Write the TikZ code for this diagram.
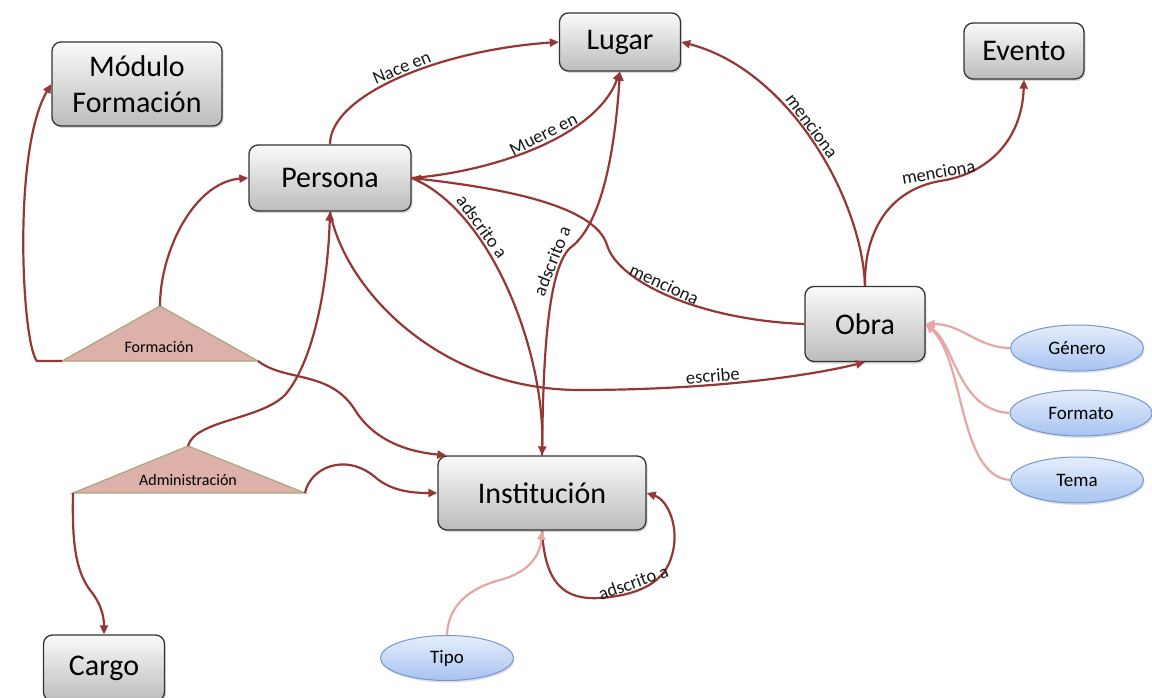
\documentclass[tikz,border=0pt]{standalone}
\usepackage{fontspec}
\setmainfont{Carlito}
\usetikzlibrary{arrows.meta,shadows,calc,shapes.geometric}

\definecolor{link}{HTML}{953735}
\definecolor{attr}{HTML}{E6A6A3}
\definecolor{boxtop}{HTML}{FAFAFA}
\definecolor{boxbot}{HTML}{BCBCBC}
\definecolor{boxline}{HTML}{333333}
\definecolor{tri}{HTML}{DDB0A9}
\definecolor{triline}{HTML}{A9A882}
\definecolor{elltop}{HTML}{E6EEFC}
\definecolor{ellbot}{HTML}{A6C3F0}
\definecolor{ellline}{HTML}{7396D4}

\tikzset{
  entity/.style={draw=boxline, line width=1.3pt, rounded corners=9pt,
    top color=boxtop, bottom color=boxbot, inner sep=0pt, align=center,
    font=\fontsize{30}{36}\selectfont,
    drop shadow={shadow xshift=1.5pt, shadow yshift=-2pt, opacity=0.3}},
  attribute/.style={ellipse, draw=ellline, line width=1pt,
    top color=elltop, bottom color=ellbot, inner sep=0pt,
    font=\fontsize{19}{22}\selectfont,
    drop shadow={shadow xshift=1pt, shadow yshift=-2pt, opacity=0.25}},
  relshape/.style={fill=tri, draw=triline, line width=1.2pt, line join=miter},
  rellabel/.style={font=\fontsize{16}{18}\selectfont, inner sep=0pt},
  tip/.style={-{Triangle[length=9pt,width=8pt]}},
  backtip/.style={{Triangle[length=9pt,width=8pt]}-},
  rel/.style={draw=link, line width=2.2pt},
  attrlink/.style={draw=attr, line width=2.2pt},
  lbl/.style={font=\fontsize{18.5}{20}\selectfont, sloped, above,
    inner sep=1.5pt, text=black!90}
}

\begin{document}
\begin{tikzpicture}[x=1pt,y=-1pt]
\useasboundingbox (0,0) rectangle (1152,698);
\fill[white] (0,0) rectangle (1152,698);
\clip (0,0) rectangle (1152,698);

% entities
\node[entity, minimum width=170pt, minimum height=84pt] (mod) at (137,84) {Módulo\\Formación};
\node[entity, minimum width=162pt, minimum height=66pt] (per) at (330,178) {Persona};
\node[entity, minimum width=121pt, minimum height=58pt] (lug) at (620,42) {Lugar};
\node[entity, minimum width=120pt, minimum height=56pt] (eve) at (1024,51) {Evento};
\node[entity, minimum width=120pt, minimum height=75pt] (obr) at (865,324) {Obra};
\node[entity, minimum width=208pt, minimum height=74pt] (ins) at (542,493) {Institución};
\node[entity, minimum width=121pt, minimum height=66pt] (car) at (104,668) {Cargo};

% attributes
\node[attribute, minimum width=133pt, minimum height=46pt] (gen) at (1077,348) {Género};
\node[attribute, minimum width=142pt, minimum height=46pt] (fmt) at (1081,413) {Formato};
\node[attribute, minimum width=133pt, minimum height=46pt] (tem) at (1077,480) {Tema};
\node[attribute, minimum width=133pt, minimum height=45pt] (tip) at (447,658) {Tipo};

% relationship triangles
\coordinate (Fa) at (160,306);
\coordinate (Fl) at (62,361);
\coordinate (Fr) at (258,361);
\filldraw[relshape] (Fl) -- (Fa) -- (Fr) -- cycle;
\node[rellabel] (frm) at (159,347) {Formación};

\coordinate (Aa) at (188,446);
\coordinate (Al) at (73,493);
\coordinate (Ar) at (305,493);
\filldraw[relshape] (Al) -- (Aa) -- (Ar) -- cycle;
\node[rellabel] (adm) at (188,480) {Administración};

% Persona relations
\draw[rel, tip] (per.north) .. controls (330,95) and (440,50) .. (lug.west)
  node[lbl, pos=0.52] {Nace en};
\draw[rel, tip] (per.east) .. controls (490,172) and (595,138) .. (lug.south)
  node[lbl, pos=0.55] {Muere en};
\draw[rel, tip] (per.east) .. controls (490,210) and (545,350) .. (ins.north)
  node[lbl, pos=0.3] {adscrito a};
\draw[rel, tip] (per.south) .. controls (345,290) and (440,390) .. (580,390)
  .. controls (700,390) and (800,378) .. (obr.south)
  node[lbl, pos=0.4] {escribe};

% Institución relations
\draw[rel, tip] (ins.north) .. controls (543,380) and (545,272) .. (570,248)
  node[lbl, pos=0.85] {adscrito a}
  .. controls (602,225) and (615,150) .. (lug.south);
\draw[rel, tip] (ins.south) .. controls (545,585) and (565,600) .. (600,598)
  .. controls (640,595) and (665,582) .. (672,555)
  node[lbl, pos=0.35] {adscrito a}
  .. controls (680,528) and (668,500) .. (ins.east);

% Obra relations
\draw[rel, backtip] (per.east) .. controls (500,188) and (595,205) .. (607,245)
  .. controls (618,282) and (700,320) .. (obr.west)
  node[lbl, pos=0.45] {menciona};
\draw[rel, tip] (obr.north) .. controls (862,200) and (790,70) .. (lug.east)
  node[lbl, pos=0.54] {menciona};
\draw[rel, tip] (obr.north) .. controls (864,230) and (890,190) .. (940,181)
  node[lbl, pos=1] {menciona}
  .. controls (988,174) and (1022,140) .. (eve.south);

% Formación links
\draw[rel, tip] (Fl) -- (37,361) .. controls (22,345) and (12,150) .. (mod.west);
\draw[rel, tip] (Fa) .. controls (160,250) and (195,182) .. (per.west);
\draw[rel, tip] (Fr) .. controls (285,382) and (330,370) .. (355,410)
  .. controls (375,442) and (410,452) .. ($(ins.north west)+(9,0)$);

% Administración links
\draw[rel, tip] (Aa) .. controls (195,420) and (260,420) .. (285,395)
  .. controls (315,360) and (328,280) .. (per.south);
\draw[rel, tip] (Ar) .. controls (310,468) and (345,452) .. (375,477)
  .. controls (392,492) and (415,493) .. (ins.west);
\draw[rel, tip] (Al) .. controls (72,540) and (75,570) .. (90,590)
  .. controls (103,606) and (104,620) .. (car.north);

% attribute links
\draw[attrlink, tip] (tip.north) .. controls (448,605) and (470,588) .. (500,580)
  .. controls (530,572) and (540,555) .. (ins.south);
\draw[attrlink, tip] (gen.west) .. controls (978,348) and (962,324) .. (obr.east);
\draw[attrlink, tip] (fmt.west) .. controls (958,410) and (955,345) .. (obr.east);
\draw[attrlink, tip] (tem.west) .. controls (958,476) and (965,360) .. (obr.east);
\end{tikzpicture}
\end{document}
